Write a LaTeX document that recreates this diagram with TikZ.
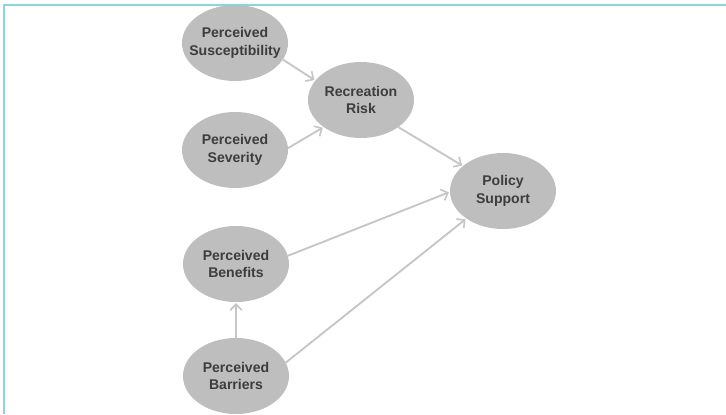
\documentclass[tikz,border=0pt]{standalone}
\usepackage{fontspec}
\setmainfont{Liberation Sans}
\usetikzlibrary{arrows.meta,shapes.geometric}
\definecolor{bubblegray}{HTML}{BEBEBE}
\definecolor{textgray}{HTML}{3D3D3D}
\definecolor{linkgray}{HTML}{C6C6C6}
\definecolor{framecyan}{HTML}{8ED4D8}
\newcommand{\link}[2]{%
  \draw[link] (#1) -- (#2);
}

\begin{document}
\begin{tikzpicture}[x=0.03cm,y=-0.03cm,
  bubble/.style={ellipse,fill=bubblegray,inner sep=0pt,outer sep=0pt,
    minimum width=3.18cm,minimum height=2.28cm},
  txt/.style={font=\fontsize{12}{15}\selectfont\bfseries,text=textgray,align=center},
  link/.style={linkgray,line width=1.6pt,shorten >=1pt,
    -{Straight Barb[length=5pt,width=10pt,line width=1.4pt]}}]
  \useasboundingbox (0,0) rectangle (726,414);
  \draw[framecyan,line width=1.1pt] (4,414) -- (4,5) -- (726,5);
  \foreach \nm/\x/\y/\txt in {
    sus/235/43/{Perceived\\Susceptibility},
    sev/235/150/{Perceived\\Severity},
    risk/361/100/{Recreation\\Risk},
    ben/236/264/{Perceived\\Benefits},
    bar/236/376/{Perceived\\Barriers},
    pol/503/191/{Policy\\Support}} {
    \node[bubble,label={[txt]center:\txt}] (\nm) at (\x,\y) {};
  }
  \link{sus.-19}{risk.157}
  \link{sev.2}{risk.216}
  \link{risk.-36}{pol.148}
  \link{ben.9}{pol.181}
  \link{bar.15}{pol.217}
  \link{bar.90}{ben.270}
\end{tikzpicture}
\end{document}
